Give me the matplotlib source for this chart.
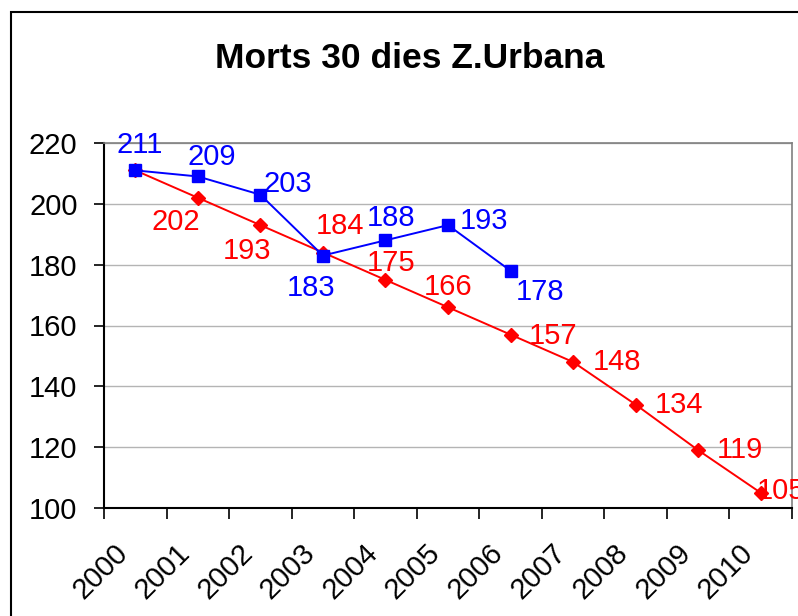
#!/usr/bin/env python3

from matplotlib import pyplot as plt
from matplotlib.patches import Rectangle

years = ['2000', '2001', '2002', '2003', '2004', '2005', '2006',
         '2007', '2008', '2009', '2010']
real = [211, 209, 203, 183, 188, 193, 178]
target = [211, 202, 193, 184, 175, 166, 157, 148, 134, 119, 105]

# label offsets in pixels (dx, dy up) from each marker
real_offsets = [(4, 25), (14, 19), (27, 11), (-12, -32), (6, 22), (36, 4), (30, -21)]
target_offsets = [None, (-22, -24), (-13, -26), (17, 27), (6, 17), (0, 20),
                  (43, -1), (44, 0), (43, 0), (42, 0), (20, 2)]

plt.rcParams['font.family'] = ['Liberation Sans', 'DejaVu Sans']

fig = plt.figure(figsize=(7.98, 6.16), dpi=100)
fig.patches.append(Rectangle((11 / 798, -0.1), 1.2, 1 - 12 / 616 + 0.1,
                             transform=fig.transFigure, fill=False,
                             edgecolor='black', linewidth=1.5))
ax = fig.add_axes([104 / 798, 1 - 508 / 616, 688 / 798, 365 / 616])

x_target = list(range(len(target)))
x_real = list(range(len(real)))

ax.plot(x_target, target, color='#ff0000', linewidth=1.4, marker='D',
        markersize=7.5, zorder=3)
ax.plot(x_real, real, color='#0000ff', linewidth=1.4, marker='s',
        markersize=8, zorder=4)

px = 0.72  # points per pixel
for x, v, off in zip(x_target, target, target_offsets):
    if off is None:
        continue
    ax.annotate(str(v), (x, v), xytext=(off[0] * px, off[1] * px),
                textcoords='offset points', ha='center', va='center',
                color='#ff0000', fontsize=21, annotation_clip=False, zorder=5)
for x, v, off in zip(x_real, real, real_offsets):
    ax.annotate(str(v), (x, v), xytext=(off[0] * px, off[1] * px),
                textcoords='offset points', ha='center', va='center',
                color='#0000ff', fontsize=21, annotation_clip=False, zorder=6)

ax.set_xlim(-0.5, len(years) - 0.5)
ax.set_ylim(100, 220)
ax.set_yticks(range(100, 221, 20))
ax.yaxis.grid(True, color='#b4b4b4', linewidth=1)
ax.set_axisbelow(True)

# boundary tick marks, labels anchored a little left of each category centre
ax.set_xticks([i - 0.5 for i in range(len(years) + 1)])
ax.set_xticklabels([])
ax.set_xticks([i - 0.19 for i in range(len(years))], minor=True)
ax.set_xticklabels(years, minor=True, rotation=45, ha='right', va='center',
                   rotation_mode='anchor', fontsize=21)
ax.tick_params(axis='x', which='major', length=8, width=1.2, direction='out')
ax.tick_params(axis='x', which='minor', length=0, pad=29)
ax.tick_params(axis='y', length=7, width=1.2, pad=12, labelsize=21)

for s in ['left', 'bottom']:
    ax.spines[s].set_color('black')
    ax.spines[s].set_linewidth(1.5)
for s in ['top', 'right']:
    ax.spines[s].set_color('#808080')
    ax.spines[s].set_linewidth(1.2)

fig.text(0.514, 1 - 58 / 616, 'Morts 30 dies Z.Urbana', ha='center',
         va='center', fontsize=25.5, fontweight='bold')

plt.savefig('out.png', dpi=100)
